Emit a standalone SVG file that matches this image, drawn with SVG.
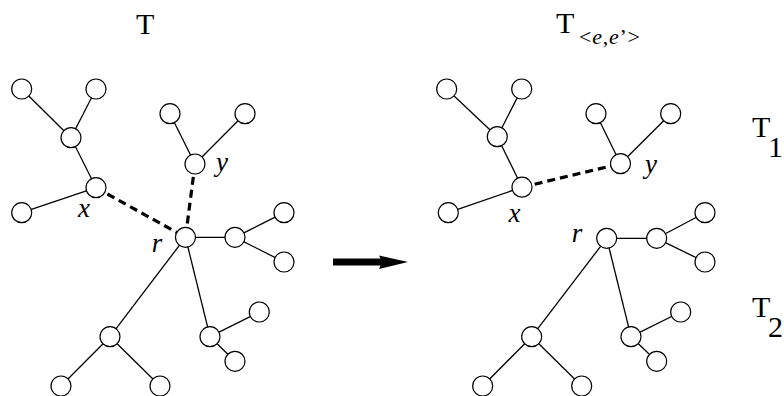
<svg xmlns="http://www.w3.org/2000/svg" width="784" height="396" viewBox="0 0 784 396">
<style>
.e{stroke:#000;stroke-width:1.3;fill:none}
.d{stroke:#000;stroke-width:3.2;stroke-dasharray:8 5;fill:none}
.n circle{fill:#fff;stroke:#000;stroke-width:1.2}
.t{font-family:"Liberation Serif","Times New Roman",serif;font-size:30px;fill:#000}
.s{font-family:"Liberation Serif","Times New Roman",serif;font-size:22px;fill:#000}
.l{font-family:"Liberation Serif","Times New Roman",serif;font-style:italic;font-size:27px;fill:#000}
</style>
<rect width="784" height="396" fill="#fff"/>
<g id="connectors">
<line class="e" x1="21.7" y1="89" x2="71" y2="137.7"/>
<line class="e" x1="96" y1="89" x2="71" y2="137.7"/>
<line class="e" x1="71" y1="137.7" x2="96" y2="187.7"/>
<line class="e" x1="21.7" y1="212.7" x2="96" y2="187.7"/>
<line class="e" x1="170" y1="113.7" x2="195" y2="164"/>
<line class="e" x1="245" y1="113.7" x2="195" y2="164"/>
<line class="d" x1="96" y1="187.7" x2="185.5" y2="237.3"/>
<line class="d" x1="195" y1="164" x2="185.5" y2="237.3"/>
<line class="e" x1="185.5" y1="237.3" x2="235" y2="237.3"/>
<line class="e" x1="235" y1="237.3" x2="284" y2="212.7"/>
<line class="e" x1="235" y1="237.3" x2="284" y2="262"/>
<line class="e" x1="185.5" y1="237.3" x2="110" y2="336.7"/>
<line class="e" x1="110" y1="336.7" x2="61" y2="386"/>
<line class="e" x1="110" y1="336.7" x2="160" y2="386"/>
<line class="e" x1="185.5" y1="237.3" x2="210" y2="336.7"/>
<line class="e" x1="210" y1="336.7" x2="259.3" y2="312"/>
<line class="e" x1="210" y1="336.7" x2="235" y2="361.3"/>
<line class="e" x1="446.7" y1="89" x2="497.3" y2="136.7"/>
<line class="e" x1="521.7" y1="89" x2="497.3" y2="136.7"/>
<line class="e" x1="497.3" y1="136.7" x2="522" y2="187.2"/>
<line class="e" x1="448.3" y1="212.7" x2="522" y2="187.2"/>
<line class="e" x1="596" y1="113.7" x2="620.5" y2="163.7"/>
<line class="e" x1="670.7" y1="113.7" x2="620.5" y2="163.7"/>
<line class="d" x1="522" y1="187.2" x2="620.5" y2="163.7"/>
<line class="e" x1="606.7" y1="238.3" x2="656.7" y2="238.3"/>
<line class="e" x1="656.7" y1="238.3" x2="705" y2="212.7"/>
<line class="e" x1="656.7" y1="238.3" x2="705" y2="262"/>
<line class="e" x1="606.7" y1="238.3" x2="531.7" y2="336.7"/>
<line class="e" x1="531.7" y1="336.7" x2="482.7" y2="386"/>
<line class="e" x1="531.7" y1="336.7" x2="581.7" y2="386"/>
<line class="e" x1="606.7" y1="238.3" x2="631" y2="336.7"/>
<line class="e" x1="631" y1="336.7" x2="680.7" y2="312"/>
<line class="e" x1="631" y1="336.7" x2="656.7" y2="361.3"/>
<rect x="333" y="258.5" width="49" height="7" fill="#000"/>
<polygon points="379,255.5 408,262 379,269 382,262" fill="#000"/>
</g>
<g class="n">
<g id="L_a"><circle cx="21.7" cy="89" r="10"/></g>
<g id="L_b"><circle cx="96" cy="89" r="10"/></g>
<g id="L_c"><circle cx="71" cy="137.7" r="10"/></g>
<g id="L_x"><circle cx="96" cy="187.7" r="10"/></g>
<g id="L_g"><circle cx="21.7" cy="212.7" r="10"/></g>
<g id="L_e"><circle cx="170" cy="113.7" r="10"/></g>
<g id="L_f"><circle cx="245" cy="113.7" r="10"/></g>
<g id="L_y"><circle cx="195" cy="164" r="10"/></g>
<g id="L_r"><circle cx="185.5" cy="237.3" r="10"/></g>
<g id="L_h"><circle cx="235" cy="237.3" r="10"/></g>
<g id="L_i"><circle cx="284" cy="212.7" r="10"/></g>
<g id="L_j"><circle cx="284" cy="262" r="10"/></g>
<g id="L_k"><circle cx="110" cy="336.7" r="10"/></g>
<g id="L_l"><circle cx="61" cy="386" r="10"/></g>
<g id="L_m"><circle cx="160" cy="386" r="10"/></g>
<g id="L_n"><circle cx="210" cy="336.7" r="10"/></g>
<g id="L_o"><circle cx="259.3" cy="312" r="10"/></g>
<g id="L_p"><circle cx="235" cy="361.3" r="10"/></g>
<g id="R_a"><circle cx="446.7" cy="89" r="10"/></g>
<g id="R_b"><circle cx="521.7" cy="89" r="10"/></g>
<g id="R_c"><circle cx="497.3" cy="136.7" r="10"/></g>
<g id="R_x"><circle cx="522" cy="187.2" r="10"/></g>
<g id="R_g"><circle cx="448.3" cy="212.7" r="10"/></g>
<g id="R_e"><circle cx="596" cy="113.7" r="10"/></g>
<g id="R_f"><circle cx="670.7" cy="113.7" r="10"/></g>
<g id="R_y"><circle cx="620.5" cy="163.7" r="10"/></g>
<g id="R_r"><circle cx="606.7" cy="238.3" r="10"/></g>
<g id="R_h"><circle cx="656.7" cy="238.3" r="10"/></g>
<g id="R_i"><circle cx="705" cy="212.7" r="10"/></g>
<g id="R_j"><circle cx="705" cy="262" r="10"/></g>
<g id="R_k"><circle cx="531.7" cy="336.7" r="10"/></g>
<g id="R_l"><circle cx="482.7" cy="386" r="10"/></g>
<g id="R_m"><circle cx="581.7" cy="386" r="10"/></g>
<g id="R_n"><circle cx="631" cy="336.7" r="10"/></g>
<g id="R_o"><circle cx="680.7" cy="312" r="10"/></g>
<g id="R_p"><circle cx="656.7" cy="361.3" r="10"/></g>
</g>
<g id="labels">
<text class="l" x="84" y="217" text-anchor="middle">x</text>
<text class="l" x="222" y="171" text-anchor="middle">y</text>
<text class="l" x="157" y="252" text-anchor="middle">r</text>
<text class="l" x="514.5" y="222" text-anchor="middle">x</text>
<text class="l" x="651" y="173" text-anchor="middle">y</text>
<text class="l" x="577" y="242" text-anchor="middle">r</text>
</g>
<g id="titles">
<text class="t" x="136" y="33.5">T</text>
<text class="t" x="556" y="33">T</text>
<text class="s" x="579" y="44" textLength="61" lengthAdjust="spacing">&lt;<tspan font-style="italic">e</tspan>,<tspan font-style="italic">e</tspan>’&gt;</text>
<text class="t" x="752" y="137">T</text>
<text class="t" x="768" y="157">1</text>
<text class="t" x="752" y="317">T</text>
<text class="t" x="768" y="337">2</text>
</g>
</svg>
